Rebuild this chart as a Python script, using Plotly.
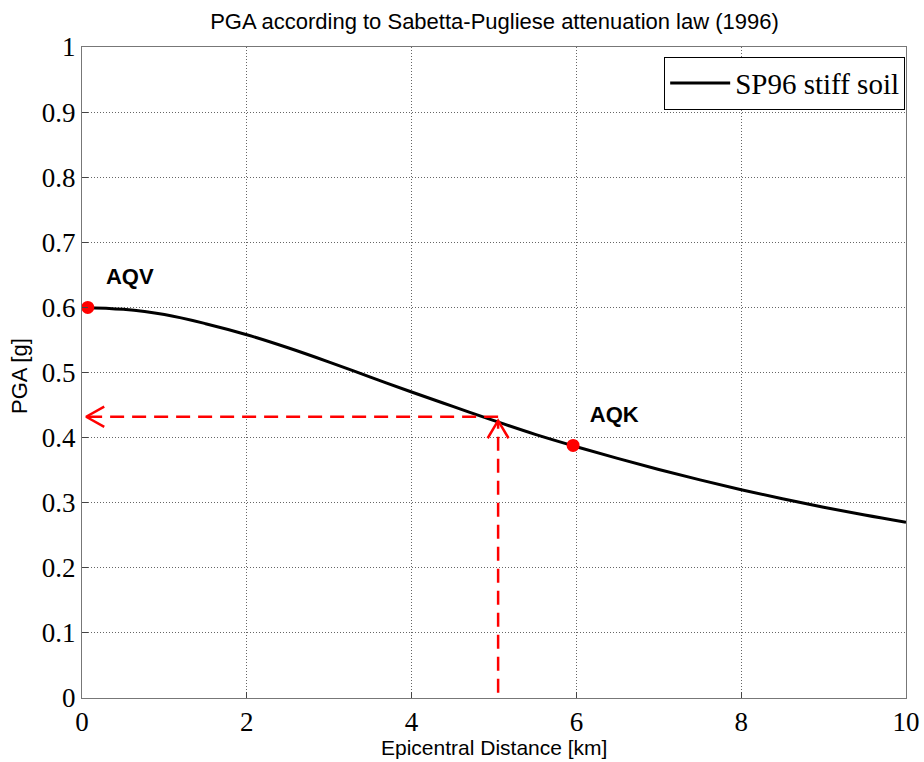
import plotly.graph_objects as go

# Curve values
distance_km = [0, 0.5, 1, 1.5, 2, 2.5, 3, 3.5, 4, 4.5, 5, 5.5, 6, 6.5, 7, 7.5, 8, 8.5, 9, 9.5, 10]
pga_g = [0.600, 0.597, 0.589, 0.575, 0.558, 0.538, 0.516, 0.493, 0.470, 0.448, 0.426,
         0.405, 0.386, 0.368, 0.351, 0.335, 0.320, 0.306, 0.293, 0.281, 0.270]

# Stations
station_names = ["AQV", "AQK"]
station_dist = [0.07, 5.96]
station_pga = [0.600, 0.388]
label_dist = [0.58, 6.46]
label_pga = [0.645, 0.433]

# Reading guide (red dashed arrows)
guide_dist = 5.05
guide_pga = 0.432
guide_top = 0.426
guide_left = 0.05

x_ticks = [0, 2, 4, 6, 8, 10]
y_ticks = [0, 0.1, 0.2, 0.3, 0.4, 0.5, 0.6, 0.7, 0.8, 0.9, 1]

RED = "#ff0000"
fig = go.Figure()

fig.add_trace(go.Scatter(x=distance_km, y=pga_g, mode="lines", line=dict(color="black", width=3, shape="spline"),
                         name="SP96 stiff soil"))

# dashed guide lines
dash = "14px,8px"
fig.add_trace(go.Scatter(x=[guide_dist, guide_left], y=[guide_pga, guide_pga], mode="lines",
                         line=dict(color=RED, width=2.5, dash=dash), showlegend=False, hoverinfo="skip"))
fig.add_trace(go.Scatter(x=[guide_dist, guide_dist], y=[0.008, guide_top], mode="lines",
                         line=dict(color=RED, width=2.5, dash=dash), showlegend=False, hoverinfo="skip"))
# arrow heads (open V)
ax_len, ay_half = 0.22, 0.0155
fig.add_trace(go.Scatter(x=[guide_left + ax_len, guide_left, guide_left + ax_len],
                         y=[guide_pga + ay_half, guide_pga, guide_pga - ay_half], mode="lines",
                         line=dict(color=RED, width=2.5), showlegend=False, hoverinfo="skip"))
vx_half, vy_len = 0.127, 0.027
fig.add_trace(go.Scatter(x=[guide_dist - vx_half, guide_dist, guide_dist + vx_half],
                         y=[guide_top - vy_len, guide_top, guide_top - vy_len], mode="lines",
                         line=dict(color=RED, width=2.5), showlegend=False, hoverinfo="skip"))

fig.add_trace(go.Scatter(x=station_dist, y=station_pga, mode="markers",
                         marker=dict(color=RED, size=13), showlegend=False, cliponaxis=False))
fig.add_trace(go.Scatter(x=label_dist, y=label_pga, mode="text", text=station_names,
                         textfont=dict(family="Liberation Sans", size=22, color="black"),
                         texttemplate="<b>%{text}</b>", showlegend=False))

axis_common = dict(showline=True, linecolor="#777777", linewidth=1, mirror=True,
                   showgrid=True, gridcolor="#666666", griddash="1px,2px", gridwidth=1,
                   ticks="inside", ticklen=6, tickcolor="#444444", zeroline=False, automargin=False,
                   tickfont=dict(family="Liberation Serif", size=27, color="black"))

fig.update_xaxes(range=[0, 10], tickvals=x_ticks, ticktext=[str(v) for v in x_ticks], **axis_common)
fig.update_yaxes(range=[0, 1], tickvals=y_ticks, ticktext=[("%g" % v) for v in y_ticks], **axis_common)

W, H = 924, 762
ML, MR, MT, MB = 82, 18, 47, 64
PW, PH = W - ML - MR, H - MT - MB

fig.add_annotation(text="Epicentral Distance [km]", xref="paper", yref="paper",
                   x=0.5, y=(H - MB - 747) / PH, xanchor="center", yanchor="middle", showarrow=False,
                   borderpad=0, font=dict(family="Liberation Sans", size=21, color="black"))
fig.add_annotation(text="PGA [g]", xref="paper", yref="paper", textangle=-90,
                   x=(19 - ML) / PW, y=(H - MB - 376) / PH, xanchor="center", yanchor="middle", showarrow=False,
                   borderpad=0, font=dict(family="Liberation Sans", size=22, color="black"))

fig.update_layout(
    width=W, height=H,
    margin=dict(l=ML, r=MR, t=MT, b=MB),
    paper_bgcolor="white", plot_bgcolor="white",
    title=dict(text="PGA according to Sabetta-Pugliese attenuation law (1996)", x=(494.5 / W), xanchor="center",
               y=1 - 21 / H, yanchor="middle", font=dict(family="Liberation Sans", size=22, color="black")),
    legend=dict(x=0.999, xanchor="right", y=0.985, yanchor="top", bordercolor="black", borderwidth=1,
                bgcolor="white", font=dict(family="Liberation Serif", size=29, color="black"),
                itemwidth=60, tracegroupgap=0),
    showlegend=True,
)

fig.write_html("out.html")
